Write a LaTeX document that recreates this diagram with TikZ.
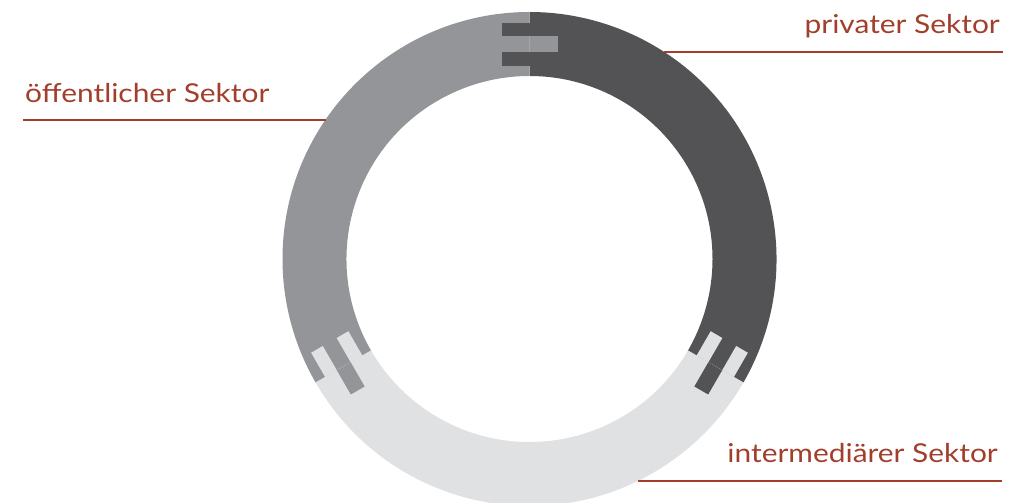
\documentclass[tikz,border=0pt]{standalone}
\usepackage{fontspec}
\setmainfont{Lato}[FakeStretch=1.15]
\usetikzlibrary{positioning,calc}
\definecolor{privgray}{RGB}{83,83,85}
\definecolor{pubgray}{RGB}{147,149,152}
\definecolor{intgray}{RGB}{224,225,226}
\definecolor{labelred}{RGB}{162,62,44}
\tikzset{
  sektorlabel/.style={text=labelred,font=\fontsize{26}{31}\selectfont,inner sep=0pt},
  sektorline/.style={draw=labelred,line width=1.6pt}
}
% annular sector of the ring, between two angles
\newcommand{\ringpart}[3]{%
  \fill[#1] (#2:247pt) arc[start angle=#2,end angle=#3,radius=247pt]
    -- (#3:183pt) arc[start angle=#3,end angle=#2,radius=183pt] -- cycle;}

\begin{document}
\begin{tikzpicture}[x=1pt,y=1pt]
  \useasboundingbox (0,0) rectangle (1023,503);
  \clip (0,0) rectangle (1023,503);
  \coordinate (c) at (529.5,244);
  % the three sectors
  \begin{scope}[shift={(c)}]
    \ringpart{privgray}{-30}{90}
    \ringpart{pubgray}{90}{210}
    \ringpart{intgray}{210}{330}
  \end{scope}
  % joint at the top
  \begin{scope}[shift={(c)},rotate=0]
    \fill[privgray] (-28,193) rectangle (0,206.5);
    \fill[privgray] (-28,222.5) rectangle (0,236);
    \fill[pubgray] (0,206.5) rectangle (28,222.5);
  \end{scope}
  % joint lower left
  \begin{scope}[shift={(c)},rotate=120]
    \fill[intgray] (0,193) rectangle (28,206.5);
    \fill[intgray] (0,222.5) rectangle (28,236);
    \fill[pubgray] (-28,206.5) rectangle (0,222.5);
  \end{scope}
  % joint lower right
  \begin{scope}[shift={(c)},rotate=240]
    \fill[intgray] (-28,193) rectangle (0,206.5);
    \fill[intgray] (-28,222.5) rectangle (0,236);
    \fill[privgray] (0,206.5) rectangle (28,222.5);
  \end{scope}
  % labels
  \node[sektorlabel,anchor=base east] (priv) at (1000,469) {privater Sektor};
  \node[sektorlabel,anchor=base west] (pub) at (25,400) {öffentlicher Sektor};
  \node[sektorlabel,anchor=base east] (inter) at (998,40) {intermediärer Sektor};
  \coordinate (privedge) at (664,451);
  \coordinate (privend) at (1003,451);
  \coordinate (pubedge) at (325.5,383);
  \coordinate (pubend) at (23,383);
  \coordinate (interedge) at (637.5,22);
  \coordinate (interend) at (1002,22);
  \draw[sektorline] (privedge) -- (privend);
  \draw[sektorline] (pubend) -- (pubedge);
  \draw[sektorline] (interedge) -- (interend);
\end{tikzpicture}
\end{document}
